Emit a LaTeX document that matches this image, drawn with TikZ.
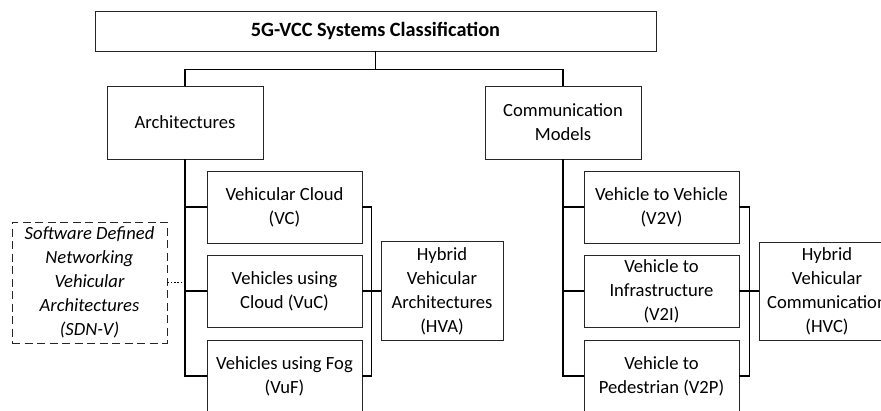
\documentclass[tikz,border=0pt]{standalone}
\usepackage{fontspec}
\setmainfont{Carlito}
\begin{document}
\begin{tikzpicture}[x=1pt,y=1pt,
  box/.style={draw=black!85, line width=0.9pt, align=center, inner sep=0pt,
    font=\fontsize{18.6}{24}\selectfont, text=black},
  sidebox/.style={box, dashed, dash pattern=on 8pt off 4.5pt, font=\fontsize{18.6}{24}\selectfont\itshape},
  link/.style={draw=black, line width=1.4pt},
  hint/.style={draw=black, line width=1pt, dash pattern=on 1.5pt off 1.8pt}]
\clip (0,0) rectangle (881,-410);
\fill[white] (0,0) rectangle (881,-410);

% root
\node[box, minimum width=561pt, minimum height=40pt, font=\fontsize{20.3}{24}\selectfont\bfseries]
  (root) at (375.5,-31) {5G-VCC Systems Classification};

% first level
\node[box, minimum width=156pt, minimum height=73pt] (arch) at (185,-122.5) {Architectures};
\node[box, minimum width=156pt, minimum height=73pt] (comm) at (563,-122.5) {Communication\\Models};

% architectures
\node[box, minimum width=155pt, minimum height=72pt] (vc)  at (284.5,-207) {Vehicular Cloud\\(VC)};
\node[box, minimum width=155pt, minimum height=72pt] (vuc) at (284.5,-291) {Vehicles using\\Cloud (VuC)};
\node[box, minimum width=155pt, minimum height=72pt] (vuf) at (284.5,-376) {Vehicles using Fog\\(VuF)};
\node[box, minimum width=122pt, minimum height=99pt] (hva) at (442,-291) {Hybrid\\Vehicular\\Architectures\\(HVA)};
\node[sidebox, minimum width=155pt, minimum height=121pt] (sdn) at (89.5,-282.5)
  {Software Defined\\Networking\\Vehicular\\Architectures\\(SDN-V)};

% communication models
\node[box, minimum width=155pt, minimum height=72pt] (v2v) at (661.5,-207) {Vehicle to Vehicle\\(V2V)};
\node[box, minimum width=155pt, minimum height=72pt] (v2i) at (661.5,-291) {Vehicle to\\Infrastructure\\(V2I)};
\node[box, minimum width=155pt, minimum height=72pt] (v2p) at (661.5,-376) {Vehicle to\\Pedestrian (V2P)};
\node[box, minimum width=136pt, minimum height=98pt] (hvc) at (827,-291) {Hybrid\\Vehicular\\Communication\\(HVC)};

% tree connectors
\draw[link] (root.south) -- ++(0,-18) -| (arch.north);
\draw[link] (root.south) -- ++(0,-18) -| (comm.north);

\draw[link] (arch.south) |- (vuf.west);
\draw[link] (arch.south) |- (vc.west);
\draw[link] (arch.south) |- (vuc.west);
\draw[link] (vc.east) -- ++(9,0) |- (vuf.east);
\draw[link] (vuc.east) -- (hva.west);

\draw[link] (comm.south) |- (v2p.west);
\draw[link] (comm.south) |- (v2v.west);
\draw[link] (comm.south) |- (v2i.west);
\draw[link] (v2v.east) -- ++(10,0) |- (v2p.east);
\draw[link] (v2i.east) -- (hvc.west);

\draw[hint] (sdn.east) -- (sdn.east -| arch.south);
\end{tikzpicture}
\end{document}
